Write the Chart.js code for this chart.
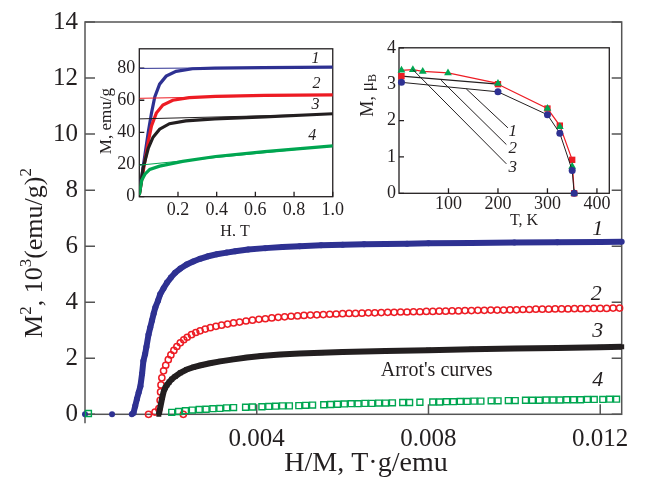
<!DOCTYPE html>
<html lang="en">
<head>
<meta charset="UTF-8">
<title>Arrot's curves</title>
<script src="https://cdn.jsdelivr.net/npm/chart.js"></script>
<style>
  body { margin: 0; background: #fff; }
  #wrap { position: relative; width: 649px; height: 477px; }
  #wrap canvas { position: absolute; }
  #main { left: 0; top: 0; }
  #insetH { left: 95px; top: 34px; }
  #insetT { left: 352px; top: 34px; }
</style>
</head>
<body>
<div id="wrap">
  <canvas id="main" width="649" height="477"></canvas>
  <canvas id="insetH" width="252" height="202"></canvas>
  <canvas id="insetT" width="270" height="200"></canvas>
</div>

<script>
// ---- main plot: M^2 vs H/M (Arrot's curves) ----
const blueX = [0, 0.00063, 0.00109, 0.00113, 0.00117, 0.00121, 0.00125, 0.00129, 0.00133, 0.00136, 0.00140, 0.00143, 0.00148, 0.00152, 0.00156, 0.00160, 0.00164, 0.00170, 0.00175, 0.00183, 0.00191, 0.00200, 0.00210, 0.00222, 0.00237, 0.00252, 0.00268, 0.00287, 0.00307, 0.00330, 0.00350, 0.00380, 0.00420, 0.00460, 0.00500, 0.00550, 0.00600, 0.00650, 0.00700, 0.00750, 0.00800, 0.00900, 0.01000, 0.01100, 0.01200, 0.01250];
const blueY = [0, 0, 0, 0.05, 0.3, 0.55, 0.78, 1.0, 1.45, 1.9, 2.15, 2.4, 2.85, 3.1, 3.35, 3.6, 3.82, 4.05, 4.28, 4.5, 4.7, 4.88, 5.05, 5.2, 5.35, 5.45, 5.55, 5.64, 5.71, 5.77, 5.82, 5.88, 5.93, 5.97, 6.0, 6.03, 6.05, 6.07, 6.08, 6.09, 6.1, 6.11, 6.13, 6.14, 6.15, 6.16];

const redX = [0.00148, 0.00163, 0.00172, 0.00229, 0.00175, 0.00176, 0.00177, 0.00179, 0.00183, 0.00188, 0.00194, 0.00200, 0.00207, 0.00214, 0.00222, 0.00230, 0.00238, 0.00248, 0.00258, 0.00268, 0.00280, 0.00292, 0.00305, 0.00318, 0.00332, 0.00346, 0.00360, 0.00375, 0.00390, 0.00405, 0.00420, 0.00435, 0.00450, 0.00465, 0.00480, 0.00495, 0.00510, 0.00525, 0.00540, 0.00555, 0.00570, 0.00585, 0.00600, 0.00615, 0.00630, 0.00645, 0.00660, 0.00675, 0.00690, 0.00705, 0.00720, 0.00735, 0.00750, 0.00765, 0.00780, 0.00795, 0.00810, 0.00825, 0.00840, 0.00855, 0.00870, 0.00885, 0.00900, 0.00915, 0.00930, 0.00945, 0.00960, 0.00975, 0.00990, 0.01005, 0.01020, 0.01035, 0.01050, 0.01065, 0.01080, 0.01095, 0.01110, 0.01125, 0.01140, 0.01155, 0.01170, 0.01185, 0.01200, 0.01215, 0.01230, 0.01245];
const redY = [0, 0.08, 0.2, 0, 0.5, 0.8, 1.05, 1.3, 1.55, 1.75, 1.95, 2.12, 2.28, 2.42, 2.55, 2.66, 2.75, 2.84, 2.92, 2.98, 3.04, 3.09, 3.14, 3.18, 3.22, 3.26, 3.29, 3.33, 3.36, 3.39, 3.41, 3.44, 3.46, 3.48, 3.50, 3.51, 3.53, 3.54, 3.55, 3.56, 3.57, 3.58, 3.59, 3.60, 3.60, 3.61, 3.62, 3.62, 3.63, 3.64, 3.64, 3.65, 3.65, 3.66, 3.66, 3.67, 3.67, 3.68, 3.68, 3.69, 3.69, 3.70, 3.70, 3.71, 3.71, 3.72, 3.72, 3.72, 3.73, 3.73, 3.74, 3.74, 3.75, 3.75, 3.75, 3.76, 3.76, 3.76, 3.77, 3.77, 3.77, 3.78, 3.78, 3.78, 3.79, 3.79];

const blackX = [0.00172, 0.00176, 0.00180, 0.00183, 0.00187, 0.00191, 0.00196, 0.00202, 0.00210, 0.00222, 0.00237, 0.00253, 0.00270, 0.00291, 0.00315, 0.00346, 0.00377, 0.00410, 0.00454, 0.00500, 0.00550, 0.00600, 0.00700, 0.00800, 0.00900, 0.01000, 0.01100, 0.01200, 0.01250];
const blackY = [0, 0.3, 0.6, 0.8, 0.95, 1.05, 1.15, 1.25, 1.35, 1.48, 1.6, 1.68, 1.75, 1.82, 1.89, 1.96, 2.03, 2.08, 2.13, 2.17, 2.2, 2.22, 2.26, 2.29, 2.32, 2.35, 2.37, 2.39, 2.41];

const greenX = [0.00008, 0.00202, 0.00218, 0.00234, 0.00250, 0.00266, 0.00282, 0.00298, 0.00314, 0.00330, 0.00346, 0.00374, 0.00390, 0.00412, 0.00428, 0.00444, 0.00460, 0.00476, 0.00498, 0.00514, 0.00530, 0.00556, 0.00572, 0.00588, 0.00604, 0.00620, 0.00636, 0.00652, 0.00668, 0.00684, 0.00700, 0.00716, 0.00740, 0.00756, 0.00780, 0.00810, 0.00826, 0.00842, 0.00858, 0.00874, 0.00890, 0.00906, 0.00922, 0.00946, 0.00962, 0.00986, 0.01002, 0.01026, 0.01042, 0.01058, 0.01074, 0.01090, 0.01106, 0.01122, 0.01138, 0.01154, 0.01170, 0.01186, 0.01206, 0.01222, 0.01238];
const greenY = [0.03, 0.07, 0.1, 0.13, 0.15, 0.17, 0.18, 0.2, 0.21, 0.23, 0.24, 0.25, 0.26, 0.27, 0.28, 0.29, 0.3, 0.3, 0.31, 0.32, 0.33, 0.34, 0.35, 0.36, 0.37, 0.38, 0.38, 0.39, 0.39, 0.40, 0.40, 0.41, 0.42, 0.42, 0.43, 0.44, 0.44, 0.45, 0.45, 0.46, 0.46, 0.47, 0.47, 0.48, 0.48, 0.49, 0.49, 0.5, 0.5, 0.5, 0.51, 0.51, 0.51, 0.52, 0.52, 0.52, 0.53, 0.53, 0.53, 0.54, 0.54];

const mainXTicks = [0.004, 0.008, 0.012];
const mainXLabels = ['0.004', '0.008', '0.012'];
const mainYTicks = [0, 2, 4, 6, 8, 10, 12, 14];

// ---- inset 1: M vs H ----
const hBlueX = [0, 0.012, 0.029, 0.046, 0.063, 0.08, 0.105, 0.139, 0.19, 0.275, 0.39, 0.64, 1.0];
const hBlueY = [2, 12, 26, 40, 52, 62, 70, 75, 78, 79.6, 80, 80.3, 80.6];
const hRedX = [0, 0.012, 0.029, 0.046, 0.063, 0.088, 0.122, 0.173, 0.258, 0.394, 0.648, 1.0];
const hRedY = [1, 10, 22, 34, 44, 52, 57, 60, 61.6, 62.4, 63, 63.4];
const hBlackX = [0, 0.02, 0.046, 0.071, 0.105, 0.156, 0.24, 0.39, 0.648, 1.0];
const hBlackY = [1, 18, 30, 37, 42, 45.4, 47.2, 48.4, 49.6, 51.6];
const hGreenX = [0, 0.012, 0.029, 0.054, 0.105, 0.224, 0.394, 0.648, 1.0];
const hGreenY = [1, 10, 14, 17, 19, 22, 25, 28, 31.6];
const fitX = [0, 1];
const fitBlue = [79.8, 80.6];
const fitRed = [61.2, 63.4];
const fitBlack = [48.4, 51.4];
const fitGreen = [19.6, 31.6];
const hXTicks = [0.2, 0.4, 0.6, 0.8, 1.0];
const hXLabels = ['0.2', '0.4', '0.6', '0.8', '1.0'];
const hYTicks = [0, 20, 40, 60, 80];

// ---- inset 2: M vs T ----
const tBlueX = [5, 200, 300, 325, 350, 354];
const tBlueY = [3.05, 2.79, 2.16, 1.65, 0.63, 0];
const tRedX = [5, 200, 300, 325, 350, 354];
const tRedY = [3.22, 3.00, 2.33, 1.86, 0.92, 0];
const tGreenX = [5, 28, 48, 99, 200, 300, 325, 350, 354];
const tGreenY = [3.38, 3.40, 3.35, 3.31, 3.02, 2.33, 1.83, 0.74, 0];
const lead1 = [[136, 2.87], [220, 1.80]];
const lead2 = [[85, 3.11], [217, 1.34]];
const lead3 = [[28, 3.40], [217, 0.81]];
const tXTicks = [100, 200, 300, 400];
const tYTicks = [0, 1, 2, 3, 4];

const FONT = '"Liberation Serif", "Times New Roman", serif';
const INK = '#231f20';
const BLUE = '#2e3192';
const RED = '#ed1c24';
const BLACK = '#231f20';
const GREEN = '#00a651';

function pts(xs, ys) { return xs.map((x, i) => ({ x: x, y: ys[i] })); }
function pairs(p) { return p.map(q => ({ x: q[0], y: q[1] })); }

function axis(min, max, tickVals, labels, size, pad, fit) {
  return {
    type: 'linear', min: min, max: max,
    grid: { display: false, drawTicks: false },
    border: { display: false },
    ticks: {
      font: { family: FONT, size: size }, color: INK, padding: pad,
      callback: (v, i) => labels ? labels[i] : String(v)
    },
    afterBuildTicks: s => { s.ticks = tickVals.map(v => ({ value: v })); },
    afterFit: fit
  };
}

// frame + inward ticks
function framePlugin(o) {
  return {
    id: 'frame',
    beforeDatasetsDraw(chart) {
      const { ctx, chartArea: a, scales: { x, y } } = chart;
      ctx.save();
      ctx.strokeStyle = o.color;
      ctx.lineWidth = o.width;
      ctx.strokeRect(a.left, a.top, a.right - a.left, a.bottom - a.top);
      ctx.beginPath();
      if (o.extend) { ctx.moveTo(a.left, a.bottom); ctx.lineTo(a.left, a.bottom + o.extend); }
      x.ticks.forEach(t => {
        const px = x.getPixelForValue(t.value);
        ctx.moveTo(px, a.bottom); ctx.lineTo(px, a.bottom - o.len);
      });
      y.ticks.forEach(t => {
        const py = y.getPixelForValue(t.value);
        ctx.moveTo(a.left, py); ctx.lineTo(a.left + o.len, py);
        if (o.right) { ctx.moveTo(a.right, py); ctx.lineTo(a.right - o.len, py); }
      });
      ctx.stroke();
      ctx.restore();
    }
  };
}

function drawRich(ctx, parts, size, style) {
  const fontFor = k => (style || '') + ' ' + (k ? Math.round(size * 0.65) : size) + 'px ' + FONT;
  let w = 0;
  parts.forEach(p => { ctx.font = fontFor(p[1]); w += ctx.measureText(p[0]).width; });
  let x = -w / 2;
  ctx.fillStyle = INK;
  ctx.textBaseline = 'middle';
  ctx.textAlign = 'left';
  parts.forEach(p => {
    ctx.font = fontFor(p[1]);
    const dy = p[1] === 'sup' ? -size * 0.33 : p[1] === 'sub' ? size * 0.28 : 0;
    ctx.fillText(p[0], x, dy);
    x += ctx.measureText(p[0]).width;
  });
}

// axis titles (offset from chart area) and curve labels (data coords)
function textPlugin(items) {
  return {
    id: 'texts',
    afterDraw(chart) {
      const { ctx, chartArea: a, scales } = chart;
      items.forEach(it => {
        let px, py;
        if (it.at) {
          px = scales.x.getPixelForValue(it.at[0]);
          py = scales.y.getPixelForValue(it.at[1]);
        } else {
          px = a.left + it.off[0];
          py = a.top + it.off[1];
        }
        ctx.save();
        ctx.translate(px, py);
        if (it.rot) ctx.rotate(-Math.PI / 2);
        drawRich(ctx, it.parts, it.size, it.style);
        ctx.restore();
      });
    }
  };
}

function baseOptions(padding, xScale, yScale) {
  return {
    responsive: false,
    animation: false,
    events: [],
    layout: { padding: padding },
    scales: { x: xScale, y: yScale },
    plugins: { legend: { display: false }, tooltip: { enabled: false } }
  };
}

// ---------- main chart ----------
new Chart(document.getElementById('main'), {
  type: 'scatter',
  data: {
    datasets: [
      {
        data: pts(greenX, greenY), showLine: false, pointStyle: 'rect',
        pointRadius: 4.2, pointBorderWidth: 1.4, pointBorderColor: GREEN,
        pointBackgroundColor: 'rgba(0,0,0,0)', clip: false
      },
      {
        data: pts(blackX, blackY), showLine: true, borderColor: BLACK, borderWidth: 6,
        pointStyle: 'rect', pointRadius: 3.5, pointBorderWidth: 0,
        pointBackgroundColor: BLACK, clip: false
      },
      {
        data: pts(redX, redY), showLine: false, pointStyle: 'circle',
        pointRadius: 3.1, pointBorderWidth: 1.5, pointBorderColor: RED,
        pointBackgroundColor: 'rgba(0,0,0,0)', clip: false
      },
      {
        data: pts(blueX, blueY), showLine: true, borderColor: BLUE, borderWidth: 6,
        pointRadius: 3, pointBorderWidth: 0, pointBackgroundColor: BLUE, clip: false,
        segment: { borderColor: c => c.p1DataIndex <= 2 ? 'rgba(0,0,0,0)' : BLUE }
      }
    ]
  },
  options: baseOptions(
    { left: 0, top: 20, right: 27.3, bottom: 0 },
    axis(0, 0.0125, mainXTicks, mainXLabels, 25, 10, s => { s.height = 62.7; }),
    axis(0, 14, mainYTicks, null, 25, 7, s => { s.width = 85; })
  ),
  plugins: [
    framePlugin({ color: '#555', width: 1.5, len: 10, right: true, extend: 9 }),
    textPlugin([
      { parts: [['M'], ['2', 'sup'], [', 10'], ['3', 'sup'], ['(emu/g)'], ['2', 'sup']], size: 26, off: [-50, 231], rot: true },
      { parts: [['H/M, T\u00b7g/emu']], size: 28, off: [281, 442] },
      { parts: [['1']], size: 22, style: 'italic', at: [0.01194, 6.61] },
      { parts: [['2']], size: 22, style: 'italic', at: [0.01191, 4.30] },
      { parts: [['3']], size: 22, style: 'italic', at: [0.01194, 2.96] },
      { parts: [['4']], size: 22, style: 'italic', at: [0.01194, 1.22] },
      { parts: [["Arrot's curves"]], size: 20, at: [0.00819, 1.57] }
    ])
  ]
});

// ---------- inset: M vs H ----------
function thin(xs, ys, color) {
  return { data: pts(xs, ys), showLine: true, borderColor: color, borderWidth: 1, pointRadius: 0 };
}
function thick(xs, ys, color) {
  return { data: pts(xs, ys), showLine: true, borderColor: color, borderWidth: 3.2, pointRadius: 0 };
}
new Chart(document.getElementById('insetH'), {
  type: 'scatter',
  data: {
    datasets: [
      thin(fitX, fitBlue, BLUE), thin(fitX, fitRed, RED), thin(fitX, fitBlack, BLACK), thin(fitX, fitGreen, GREEN),
      thick(hGreenX, hGreenY, GREEN), thick(hBlackX, hBlackY, BLACK),
      thick(hRedX, hRedY, RED), thick(hBlueX, hBlueY, BLUE)
    ]
  },
  options: baseOptions(
    { left: 0, top: 8.7, right: 9.7, bottom: 0 },
    axis(0, 1.0, hXTicks, hXLabels, 18, 3, s => { s.height = 39.3; }),
    axis(0, 92, hYTicks, null, 18, 4, s => { s.width = 44.3; })
  ),
  plugins: [
    framePlugin({ color: INK, width: 1.3, len: 5 }),
    textPlugin([
      { parts: [['M, emu/g']], size: 17, off: [-32.3, 72.3], rot: true },
      { parts: [['H, T']], size: 16, off: [95.7, 183.3] },
      { parts: [['1']], size: 16, style: 'italic', at: [0.911, 86] },
      { parts: [['2']], size: 16, style: 'italic', at: [0.916, 70] },
      { parts: [['3']], size: 16, style: 'italic', at: [0.911, 57] },
      { parts: [['4']], size: 16, style: 'italic', at: [0.894, 38] }
    ])
  ]
});

// ---------- inset: M vs T ----------
function lead(p) {
  return { data: pairs(p), showLine: true, borderColor: BLACK, borderWidth: 1, pointRadius: 0 };
}
new Chart(document.getElementById('insetT'), {
  type: 'scatter',
  data: {
    datasets: [
      lead(lead1), lead(lead2), lead(lead3),
      {
        data: pts(tBlueX, tBlueY), showLine: true, borderColor: BLACK, borderWidth: 1,
        pointStyle: 'circle', pointRadius: 3.5, pointBorderWidth: 0, pointBackgroundColor: BLUE, clip: false
      },
      {
        data: pts(tGreenX, tGreenY), showLine: true, borderColor: RED, borderWidth: 1.2,
        segment: { borderColor: c => c.p1DataIndex <= 4 ? RED : 'rgba(0,0,0,0)' },
        pointStyle: 'triangle', pointRadius: 4.5, pointBorderWidth: 0, pointBackgroundColor: GREEN, clip: false
      },
      {
        data: pts(tRedX, tRedY), showLine: true, borderColor: RED, borderWidth: 1.2,
        segment: { borderColor: c => c.p1DataIndex === 1 ? BLACK : RED },
        pointStyle: 'rect', pointRadius: 4.5, pointBorderWidth: 0, pointBackgroundColor: RED, clip: false
      }
    ]
  },
  options: baseOptions(
    { left: 0, top: 10, right: 12.7, bottom: 0 },
    axis(0, 425, tXTicks, null, 18, 0, s => { s.height = 40.7; }),
    axis(0, 4, tYTicks, null, 18, 3, s => { s.width = 47; })
  ),
  plugins: [
    framePlugin({ color: INK, width: 1.3, len: 5 }),
    textPlugin([
      { parts: [['M, \u03bc'], ['B', 'sub']], size: 18, off: [-31, 47.5], rot: true },
      { parts: [['T, K']], size: 16, off: [125, 172.7] },
      { parts: [['1']], size: 17, style: 'italic', at: [230, 1.70] },
      { parts: [['2']], size: 17, style: 'italic', at: [230, 1.23] },
      { parts: [['3']], size: 17, style: 'italic', at: [230, 0.72] }
    ])
  ]
});
</script>
</body>
</html>
